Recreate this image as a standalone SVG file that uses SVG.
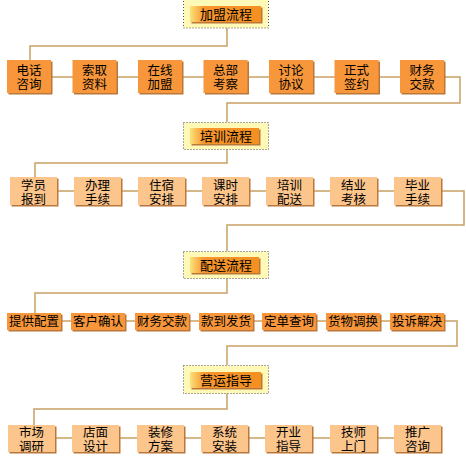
<svg xmlns="http://www.w3.org/2000/svg" width="466" height="458" viewBox="0 0 466 458">
<style>
text{font-family:"Liberation Sans","Noto Sans CJK SC",sans-serif;font-size:12.5px;fill:#000;text-anchor:middle}
.t{font-size:13px}
.c{fill:none;stroke:#C9A063;stroke-width:1.5}
.sh{fill:#B9783A}
.o{fill:#F7963A}
.p{fill:#FCC58C}
.tb{fill:#FFF9B8;stroke:#555;stroke-width:1;stroke-dasharray:1 2}
.ti{fill:url(#tg)}
</style>
<defs>
<linearGradient id="tg" x1="0" x2="1" y1="0" y2="0">
<stop offset="0" stop-color="#FCE27A"/>
<stop offset="0.2" stop-color="#F7952E"/>
<stop offset="1" stop-color="#F39020"/>
</linearGradient>
</defs>
<rect width="466" height="458" fill="#fff"/>
<g id="connectors">
<path class="c" d="M227 28V46H30V60"/>
<path class="c" d="M50 77H400"/>
<path class="c" d="M443 77H460V103H227V122"/>
<path class="c" d="M227 149V163H35V177"/>
<path class="c" d="M57 191H394"/>
<path class="c" d="M442 191H464V225H227V251"/>
<path class="c" d="M227 278V293H35V313"/>
<path class="c" d="M61 321H390"/>
<path class="c" d="M443 321H457V346H227V365"/>
<path class="c" d="M227 393V409H34V425"/>
<path class="c" d="M55 438H394"/>
</g>
<g id="title1"><rect class="tb" x="183.5" y="-1" width="85" height="29"/><rect class="sh" x="191.5" y="7.5" width="71" height="16"/><rect class="ti" x="190" y="6" width="71" height="16"/><text class="t" x="226" y="19">加盟流程</text></g>
<g id="title2"><rect class="tb" x="183.5" y="122.5" width="85" height="27"/><rect class="sh" x="191.5" y="129.5" width="69" height="16"/><rect class="ti" x="190" y="128" width="69" height="16"/><text class="t" x="226" y="141">培训流程</text></g>
<g id="title3"><rect class="tb" x="183.5" y="251.5" width="85" height="27"/><rect class="sh" x="191.5" y="258.5" width="69" height="16"/><rect class="ti" x="190" y="257" width="69" height="16"/><text class="t" x="226" y="270">配送流程</text></g>
<g id="title4"><rect class="tb" x="183.5" y="365.5" width="85" height="28"/><rect class="sh" x="191.5" y="373.5" width="71" height="16"/><rect class="ti" x="190" y="372" width="71" height="16"/><text class="t" x="226" y="385">营运指导</text></g>

<g id="r1n1"><rect class="sh" x="8.5" y="61.5" width="44" height="33"/><rect class="o" x="7" y="60" width="44" height="33"/><text x="29" y="75">电话<tspan x="29" dy="14">咨询</tspan></text></g>
<g id="r1n2"><rect class="sh" x="74" y="61.5" width="44" height="33"/><rect class="o" x="72.5" y="60" width="44" height="33"/><text x="94.5" y="75">索取<tspan x="94.5" dy="14">资料</tspan></text></g>
<g id="r1n3"><rect class="sh" x="139.5" y="61.5" width="44" height="33"/><rect class="o" x="138" y="60" width="44" height="33"/><text x="160" y="75">在线<tspan x="160" dy="14">加盟</tspan></text></g>
<g id="r1n4"><rect class="sh" x="205" y="61.5" width="44" height="33"/><rect class="o" x="203.5" y="60" width="44" height="33"/><text x="225.5" y="75">总部<tspan x="225.5" dy="14">考察</tspan></text></g>
<g id="r1n5"><rect class="sh" x="270.5" y="61.5" width="44" height="33"/><rect class="o" x="269" y="60" width="44" height="33"/><text x="291" y="75">讨论<tspan x="291" dy="14">协议</tspan></text></g>
<g id="r1n6"><rect class="sh" x="336" y="61.5" width="44" height="33"/><rect class="o" x="334.5" y="60" width="44" height="33"/><text x="356.5" y="75">正式<tspan x="356.5" dy="14">签约</tspan></text></g>
<g id="r1n7"><rect class="sh" x="401.5" y="61.5" width="44" height="33"/><rect class="o" x="400" y="60" width="44" height="33"/><text x="422" y="75">财务<tspan x="422" dy="14">交款</tspan></text></g>

<g id="r2n1"><rect class="sh" x="11.5" y="178.5" width="47" height="28"/><rect class="p" x="10" y="177" width="47" height="28"/><text x="33.5" y="189.5">学员<tspan x="33.5" dy="14">报到</tspan></text></g>
<g id="r2n2"><rect class="sh" x="75.5" y="178.5" width="47" height="28"/><rect class="p" x="74" y="177" width="47" height="28"/><text x="97.5" y="189.5">办理<tspan x="97.5" dy="14">手续</tspan></text></g>
<g id="r2n3"><rect class="sh" x="139.5" y="178.5" width="47" height="28"/><rect class="p" x="138" y="177" width="47" height="28"/><text x="161.5" y="189.5">住宿<tspan x="161.5" dy="14">安排</tspan></text></g>
<g id="r2n4"><rect class="sh" x="203.5" y="178.5" width="47" height="28"/><rect class="p" x="202" y="177" width="47" height="28"/><text x="225.5" y="189.5">课时<tspan x="225.5" dy="14">安排</tspan></text></g>
<g id="r2n5"><rect class="sh" x="267.5" y="178.5" width="47" height="28"/><rect class="p" x="266" y="177" width="47" height="28"/><text x="289.5" y="189.5">培训<tspan x="289.5" dy="14">配送</tspan></text></g>
<g id="r2n6"><rect class="sh" x="331.5" y="178.5" width="47" height="28"/><rect class="p" x="330" y="177" width="47" height="28"/><text x="353.5" y="189.5">结业<tspan x="353.5" dy="14">考核</tspan></text></g>
<g id="r2n7"><rect class="sh" x="395.5" y="178.5" width="47" height="28"/><rect class="p" x="394" y="177" width="47" height="28"/><text x="417.5" y="189.5">毕业<tspan x="417.5" dy="14">手续</tspan></text></g>

<g id="r3n1"><rect class="sh" x="8.5" y="314.5" width="54" height="17"/><rect class="o" x="7" y="313" width="54" height="17"/><text x="34" y="326">提供配置</text></g>
<g id="r3n2"><rect class="sh" x="72.5" y="314.5" width="54" height="17"/><rect class="o" x="71" y="313" width="54" height="17"/><text x="98" y="326">客户确认</text></g>
<g id="r3n3"><rect class="sh" x="136.5" y="314.5" width="54" height="17"/><rect class="o" x="135" y="313" width="54" height="17"/><text x="162" y="326">财务交款</text></g>
<g id="r3n4"><rect class="sh" x="200.5" y="314.5" width="54" height="17"/><rect class="o" x="199" y="313" width="54" height="17"/><text x="226" y="326">款到发货</text></g>
<g id="r3n5"><rect class="sh" x="263.5" y="314.5" width="54" height="17"/><rect class="o" x="262" y="313" width="54" height="17"/><text x="289" y="326">定单查询</text></g>
<g id="r3n6"><rect class="sh" x="327.5" y="314.5" width="54" height="17"/><rect class="o" x="326" y="313" width="54" height="17"/><text x="353" y="326">货物调换</text></g>
<g id="r3n7"><rect class="sh" x="391.5" y="314.5" width="54" height="17"/><rect class="o" x="390" y="313" width="54" height="17"/><text x="417" y="326">投诉解决</text></g>

<g id="r4n1"><rect class="sh" x="9.5" y="426.5" width="47" height="27"/><rect class="p" x="8" y="425" width="47" height="27"/><text x="31.5" y="436.5">市场<tspan x="31.5" dy="14">调研</tspan></text></g>
<g id="r4n2"><rect class="sh" x="73.5" y="426.5" width="47" height="27"/><rect class="p" x="72" y="425" width="47" height="27"/><text x="95.5" y="436.5">店面<tspan x="95.5" dy="14">设计</tspan></text></g>
<g id="r4n3"><rect class="sh" x="138.5" y="426.5" width="47" height="27"/><rect class="p" x="137" y="425" width="47" height="27"/><text x="160.5" y="436.5">装修<tspan x="160.5" dy="14">方案</tspan></text></g>
<g id="r4n4"><rect class="sh" x="202.5" y="426.5" width="47" height="27"/><rect class="p" x="201" y="425" width="47" height="27"/><text x="224.5" y="436.5">系统<tspan x="224.5" dy="14">安装</tspan></text></g>
<g id="r4n5"><rect class="sh" x="266.5" y="426.5" width="47" height="27"/><rect class="p" x="265" y="425" width="47" height="27"/><text x="288.5" y="436.5">开业<tspan x="288.5" dy="14">指导</tspan></text></g>
<g id="r4n6"><rect class="sh" x="331.5" y="426.5" width="47" height="27"/><rect class="p" x="330" y="425" width="47" height="27"/><text x="353.5" y="436.5">技师<tspan x="353.5" dy="14">上门</tspan></text></g>
<g id="r4n7"><rect class="sh" x="395.5" y="426.5" width="47" height="27"/><rect class="p" x="394" y="425" width="47" height="27"/><text x="417.5" y="436.5">推广<tspan x="417.5" dy="14">咨询</tspan></text></g>
</svg>
